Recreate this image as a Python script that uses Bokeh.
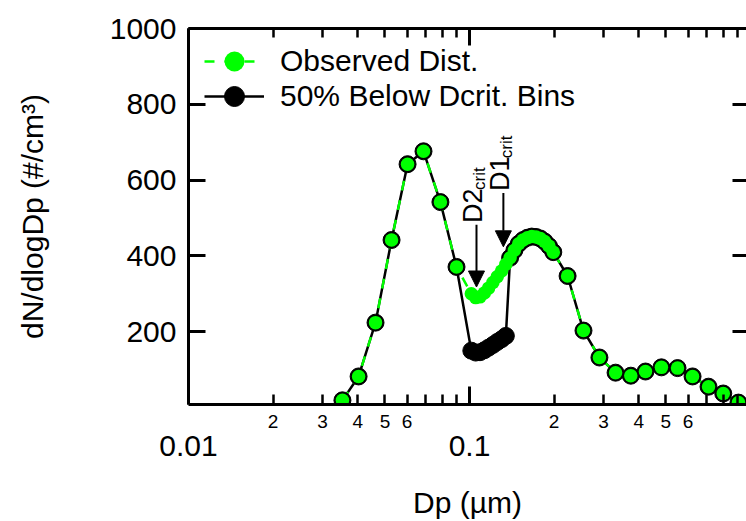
import math
from bokeh.plotting import figure
from bokeh.models import (LogAxis, LinearAxis, FixedTicker, CustomJSTickFormatter,
                          Range1d, Legend, LegendItem, Arrow, NormalHead)
from bokeh.core.properties import value
from bokeh.embed import file_html
from bokeh.resources import INLINE

# ---------------- data ----------------
dp = [0.0353, 0.0403, 0.0463, 0.0528, 0.0602, 0.0686, 0.0788, 0.0899,
      0.1015, 0.1052, 0.1090, 0.1129, 0.1169, 0.1211, 0.1255, 0.1300, 0.1347,
      0.1395, 0.1445, 0.1497, 0.1551, 0.1607, 0.1665, 0.1725, 0.1787, 0.1851,
      0.1918, 0.1987,
      0.2234, 0.2545, 0.290, 0.331, 0.375, 0.423, 0.482, 0.550, 0.622, 0.709,
      0.800, 0.906]

observed = [19, 82, 224, 442, 642, 676, 542, 371,
            300, 290, 292, 302, 315, 330, 345, 360, 378,
            395, 415, 432, 442, 448, 451, 450, 446, 438,
            426, 410,
            347, 203, 132, 92, 84, 95, 106, 104, 82, 55,
            37, 13]

below50 = [19, 82, 224, 442, 642, 676, 542, 371,
           150, 145, 146, 151, 158, 165, 173, 180, 189,
           395, 415, 432, 442, 448, 451, 450, 446, 438,
           426, 410,
           347, 203, 132, 92, 84, 95, 106, 104, 82, 55,
           37, 13]

labels_series = ["Observed Dist.", "50% Below Dcrit. Bins"]
y_ticks = [200, 400, 600, 800, 1000]
x_decades = [0.01, 0.1, 1.0]
x_labeled_minor = [0.02, 0.03, 0.04, 0.05, 0.06, 0.2, 0.3, 0.4, 0.5, 0.6]
x_unlabeled_minor = [0.07, 0.08, 0.09, 0.7, 0.8, 0.9]

D2_CRIT = 0.1059
D1_CRIT = 0.132

GREEN = "#00ff00"
FONT = "Liberation Sans"

p = figure(width=746, height=521, x_axis_type="log", x_axis_location=None,
           x_range=Range1d(0.01, 0.9678), y_range=Range1d(8, 1000),
           output_backend="svg", toolbar_location=None,
           min_border_left=188, min_border_top=28, min_border_right=0,
           min_border_bottom=116)
p.grid.visible = False
p.outline_line_color = None
p.background_fill_color = "white"
p.border_fill_color = "white"

empty_fmt = CustomJSTickFormatter(code="return '';")

# left axis
ya = p.yaxis[0]
ya.ticker = FixedTicker(ticks=y_ticks, minor_ticks=[])
ya.major_tick_in = 17
ya.major_tick_out = 0
ya.minor_tick_in = 0
ya.minor_tick_out = 0
ya.axis_line_width = 3
ya.axis_line_color = "black"
ya.major_tick_line_width = 3
ya.major_tick_line_color = "black"
ya.major_label_text_font = FONT
ya.major_label_text_font_size = "30px"
ya.major_label_text_color = "black"
ya.major_label_standoff = 12
ya.axis_label = "dN/dlogDp (#/cm³)"
ya.axis_label_text_font = FONT
ya.axis_label_text_font_size = "30px"
ya.axis_label_text_font_style = "normal"
ya.axis_label_text_color = "black"
ya.axis_label_standoff = 58

# right axis (ticks only)
ra = LinearAxis(ticker=FixedTicker(ticks=y_ticks[:-1], minor_ticks=[]),
                formatter=empty_fmt)
ra.axis_line_color = None
ra.major_tick_in = 14
ra.major_tick_out = 0
ra.major_tick_line_width = 3
ra.major_tick_line_color = "black"
ra.minor_tick_in = 0
ra.minor_tick_out = 0
ra.major_label_text_font_size = "0px"
ra.major_label_standoff = 0
p.add_layout(ra, "right")

# top axis (ticks only)
ta = LogAxis(ticker=FixedTicker(ticks=x_decades,
                                minor_ticks=x_labeled_minor + x_unlabeled_minor),
             formatter=empty_fmt)
ta.axis_line_width = 3
ta.axis_line_color = "black"
ta.major_tick_in = 17
ta.major_tick_out = 0
ta.minor_tick_in = 9
ta.minor_tick_out = 0
ta.major_tick_line_width = 3
ta.minor_tick_line_width = 2.5
ta.major_tick_line_color = "black"
ta.minor_tick_line_color = "black"
ta.major_label_text_font_size = "0px"
ta.major_label_standoff = 0
p.add_layout(ta, "above")

# bottom axis A: line and ticks
ba = LogAxis(ticker=FixedTicker(ticks=x_decades,
                                minor_ticks=x_labeled_minor + x_unlabeled_minor),
             formatter=empty_fmt)
ba.axis_line_width = 3
ba.axis_line_color = "black"
ba.major_tick_in = 18
ba.major_tick_out = 0
ba.minor_tick_in = 10
ba.minor_tick_out = 0
ba.major_tick_line_width = 3
ba.minor_tick_line_width = 2.5
ba.major_tick_line_color = "black"
ba.minor_tick_line_color = "black"
ba.major_label_text_font_size = "0px"
ba.major_label_standoff = 0
p.add_layout(ba, "below")

# bottom axis B: minor digit labels
bb = LogAxis(ticker=FixedTicker(ticks=x_labeled_minor, minor_ticks=[]),
             formatter=CustomJSTickFormatter(code="""
                 const e = Math.floor(Math.log10(tick) + 1e-9);
                 return String(Math.round(tick / Math.pow(10, e)));"""))
bb.axis_line_color = None
bb.major_tick_line_color = None
bb.minor_tick_line_color = None
bb.major_tick_in = 0
bb.major_tick_out = 0
bb.major_label_text_font = FONT
bb.major_label_text_font_size = "19px"
bb.major_label_text_color = "black"
bb.major_label_standoff = 10
p.add_layout(bb, "below")

# bottom axis C: decade labels + title
bc = LogAxis(ticker=FixedTicker(ticks=x_decades, minor_ticks=[]),
             formatter=CustomJSTickFormatter(code="return String(tick);"))
bc.axis_line_color = None
bc.major_tick_line_color = None
bc.minor_tick_line_color = None
bc.major_tick_in = 0
bc.major_tick_out = 0
bc.major_label_text_font = FONT
bc.major_label_text_font_size = "30px"
bc.major_label_text_color = "black"
bc.major_label_standoff = 5
bc.axis_label = "Dp (µm)"
bc.axis_label_text_font = FONT
bc.axis_label_text_font_size = "30px"
bc.axis_label_text_font_style = "normal"
bc.axis_label_text_color = "black"
bc.axis_label_standoff = 27
p.add_layout(bc, "below")

# ---------------- series ----------------
k_line = p.line(dp, below50, line_color="black", line_width=2.5)
g_line = p.line(dp, observed, line_color=GREEN, line_width=2.5, line_dash="10 10")
k_pts = p.scatter(dp, below50, marker="circle", size=17,
                  fill_color="black", line_color="black")
g_pts = p.scatter(dp, observed, marker="circle", size=13.5,
                  fill_color=GREEN, line_color=None)

# ---------------- annotations ----------------
for xc, y_lab, y_sub, y0, y1, lab in [(D2_CRIT, 487, 574, 482, 318, "D2"),
                                      (D1_CRIT, 571, 658, 566, 424, "D1")]:
    p.text(x=[xc], y=[y_lab], text=[lab], angle=math.pi / 2, x_offset=-3,
           text_font=value(FONT), text_font_size="27px",
           text_align="left", text_baseline="alphabetic", text_color="black")
    p.text(x=[xc], y=[y_sub], text=["crit"], angle=math.pi / 2, x_offset=3,
           text_font=value(FONT), text_font_size="17px",
           text_align="left", text_baseline="alphabetic", text_color="black")
    p.add_layout(Arrow(x_start=xc, y_start=y0, x_end=xc, y_end=y1,
                       line_color="black", line_width=2,
                       end=NormalHead(size=16, fill_color="black",
                                      line_color="black")))

legend_style = dict(margin=0, padding=0, spacing=0,
                    glyph_width=60, glyph_height=50, label_height=50,
                    label_standoff=16, label_text_font=FONT,
                    label_text_font_size="30px", label_text_color="black",
                    background_fill_alpha=0, border_line_color=None)
leg1 = Legend(items=[LegendItem(label=labels_series[0], renderers=[g_line, g_pts])],
              location=(16, 318), **legend_style)
leg2 = Legend(items=[LegendItem(label=labels_series[1], renderers=[k_line, k_pts])],
              location=(16, 283), **legend_style)
p.add_layout(leg1)
p.add_layout(leg2)

open("out.html", "w").write(file_html(p, INLINE))
